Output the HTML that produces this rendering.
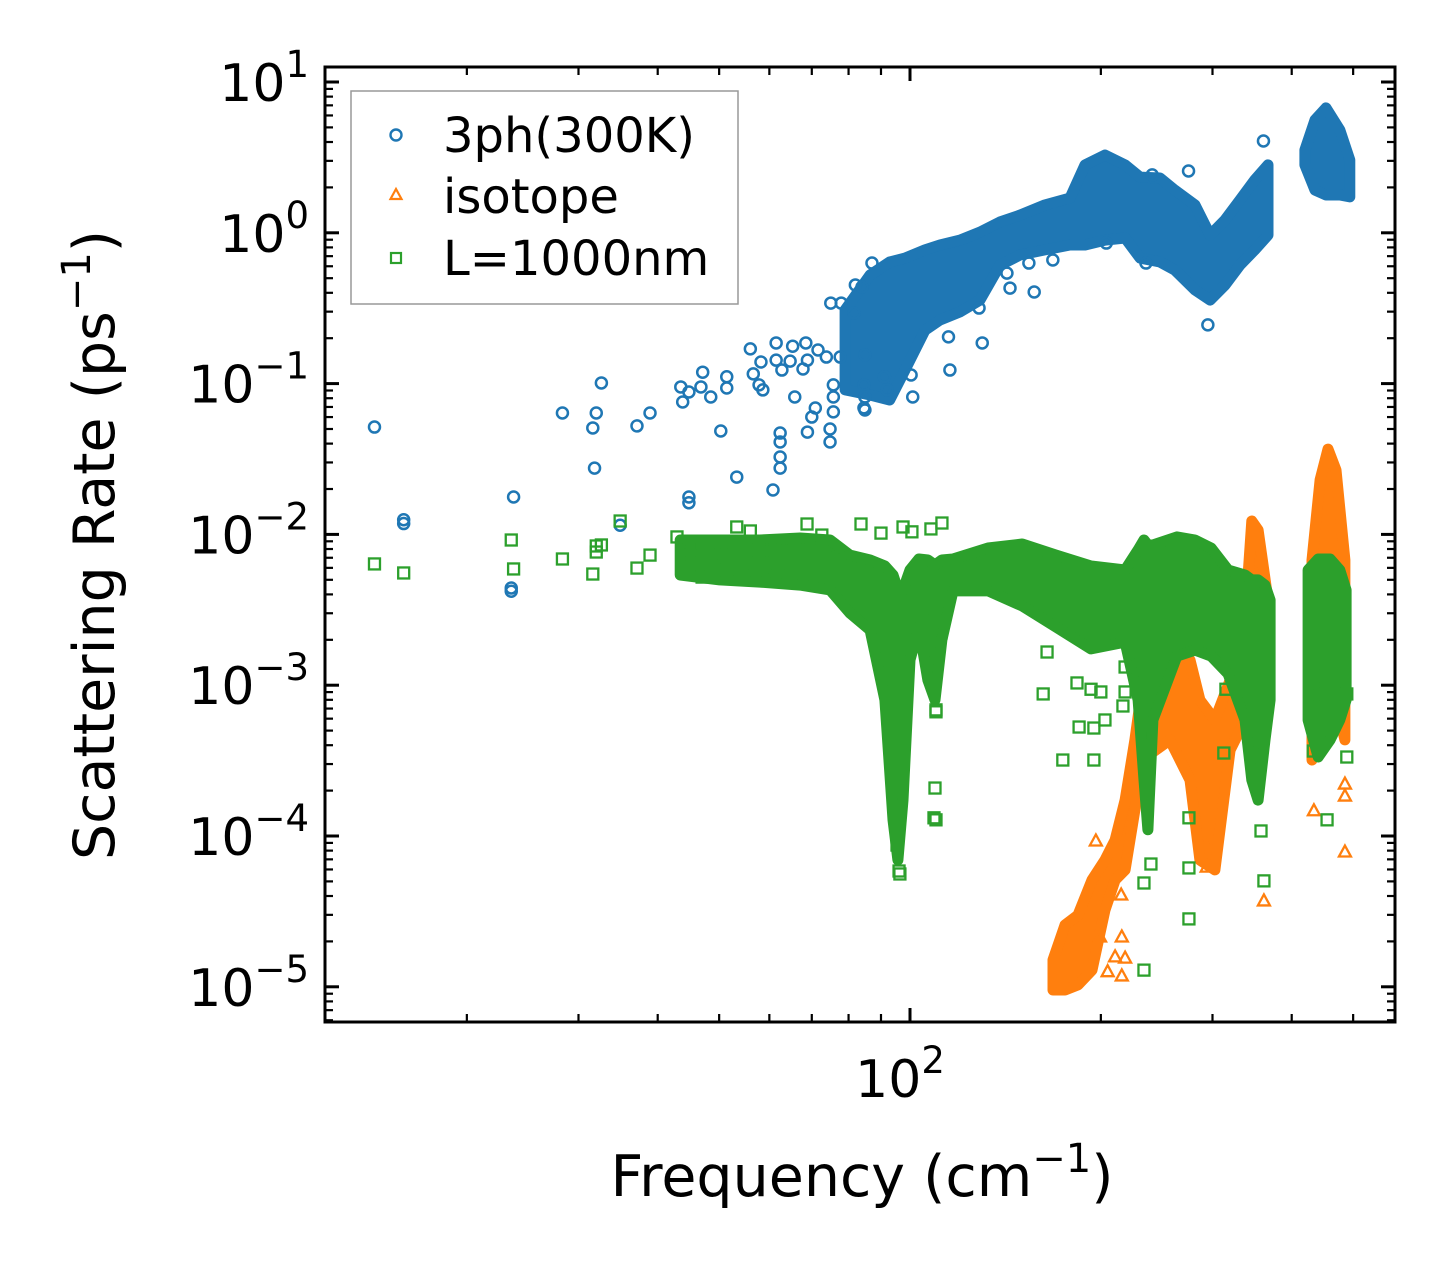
<!DOCTYPE html>
<html><head><meta charset="utf-8">
<style>
html,body{margin:0;padding:0;background:#fff;}
svg{display:block;font-family:"DejaVu Sans","Liberation Sans",sans-serif;}
</style></head>
<body>
<svg id="chart" width="1455" height="1272" viewBox="0 0 1455 1272" xmlns="http://www.w3.org/2000/svg">
<defs><clipPath id="plotclip"><rect x="325" y="67" width="1070" height="955"/></clipPath></defs>
<rect x="0" y="0" width="1455" height="1272" fill="#fff"/>
<g id="marks" clip-path="url(#plotclip)"></g>
<g id="axes"></g>
<rect x="325" y="67" width="1070" height="955" fill="none" stroke="#000" stroke-width="3"/>
<g>
<rect x="351" y="91" width="387" height="213" fill="#fff" fill-opacity="0.8" stroke="#999" stroke-width="1.5"/>
<g>
<circle cx="396" cy="135" r="5.5" fill="none" stroke="#1f77b4" stroke-width="2.4"/>
<text x="443" y="152" font-size="48">3ph(300K)</text></g>
<g>
<polygon points="396,189 401.5,199 390.5,199" fill="none" stroke="#ff7f0e" stroke-width="2.2"/>
<text x="443" y="213" font-size="48">isotope</text></g>
<g>
<rect x="391" y="253" width="10" height="10" fill="none" stroke="#2ca02c" stroke-width="2.2"/>
<text x="443" y="275" font-size="48">L=1000nm</text></g>
</g>
<text x="862" y="1196" font-size="57" text-anchor="middle">Frequency (cm<tspan dy="-24" font-size="40">−1</tspan><tspan dy="24">)</tspan></text>
<text transform="translate(114,545) rotate(-90)" font-size="57" text-anchor="middle">Scattering Rate (ps<tspan dy="-24" font-size="40">−1</tspan><tspan dy="24">)</tspan></text>
</svg>
<script>
const blueFreq=[14.3,15.9,15.9,23.7,23.5,23.5,28.3,32.0,31.6,32.6,31.8,37.1,38.9,34.9,43.5,43.8,44.8,46.8,47.1,48.5,51.4,51.4,50.3,53.3,44.8,44.8,56.0,56.6,57.8,58.6,58.2,61.5,61.5,62.8,64.7,65.3,65.8,62.4,62.4,62.4,62.4,60.8,67.8,68.9,70.0,70.9,68.5,68.9,71.6,73.8,75.7,75.7,75.7,74.8,74.8,75.0,77.6,77.9,81.6,82.0,84.0,87.1,84.9,84.6,84.9,84.9,92.0,91.1,100.4,101,115,115.6,84.6,130,128.5,143.8,142.2,157,154,168,204,235.6,295,361,275,241];
const blueRate=[0.0515,0.0125,0.0118,0.0177,0.00441,0.0042,0.0638,0.0638,0.0508,0.101,0.0275,0.0524,0.0638,0.0115,0.095,0.0755,0.088,0.095,0.119,0.0815,0.111,0.0935,0.0485,0.024,0.0177,0.0162,0.170,0.116,0.098,0.0908,0.139,0.186,0.143,0.123,0.141,0.177,0.0815,0.047,0.041,0.0326,0.0275,0.0197,0.125,0.0477,0.060,0.0689,0.186,0.143,0.167,0.150,0.098,0.0815,0.0649,0.050,0.041,0.342,0.150,0.342,0.294,0.451,0.437,0.63,0.155,0.098,0.0815,0.0668,0.0908,0.111,0.114,0.0815,0.204,0.123,0.069,0.186,0.317,0.43,0.54,0.405,0.63,0.66,0.855,0.63,0.245,4.06,2.57,2.42];
const blueBandFreq=[79.0,86.5,92.9,98.2,105.6,111.5,119.9,128.9,138.6,149.1,163.3,178.8,188.8,203,218.4,230.6,247.9,261.6,281.5,297.4,314,331.4,349.7,367,null,419.7,435.3,453,476.4,494];
const blueBandHigh=[0.308,0.525,0.64,0.68,0.77,0.83,0.895,1.01,1.18,1.31,1.53,1.70,2.82,3.28,2.82,2.34,2.31,1.92,1.53,0.966,1.22,1.65,2.24,2.82,null,3.54,5.60,6.73,4.81,3.04];
const blueBandLow=[0.0908,0.084,0.0778,0.123,0.226,0.264,0.299,0.358,0.61,0.712,0.77,0.83,0.83,0.895,0.924,0.68,0.64,0.566,0.418,0.358,0.451,0.61,0.77,0.966,null,2.82,1.92,1.78,1.78,1.73];

const greenFreq=[14.3,15.9,23.5,23.7,28.3,31.6,32.0,32.0,32.6,34.9,37.1,38.9,42.9,43.8,44.8,44.8,47.0,47.1,48.5,50.3,51.4,51.4,53.3,56.0,56.9,57.8,61.2,61.2,62.6,61.9,65.2,68.8,69.2,72.6,68.1,77.0,83.7,90.0,97.5,100.7,107.9,112.3,109.5,111.9,109.9,109.5,109.1,96.1,95.4,162.2,183.4,193,200,218.4,216.7,184.8,195,203,174.2,195,239.9,233.9,233.9,275.4,275.4,275.4,312.6,315,357.8,361.6,432.6,454.8,488.6,432.6,432.6,488.6,109.9,109.9,96.4,164.5,218.4];
const greenRate=[0.00637,0.00555,0.00918,0.0059,0.00687,0.00546,0.00838,0.00764,0.00851,0.01227,0.00598,0.00729,0.00962,0.00608,0.00891,0.00789,0.00521,0.00877,0.00637,0.00729,0.00891,0.00581,0.0112,0.01054,0.0053,0.00789,0.00789,0.00499,0.00904,0.00646,0.00598,0.01172,0.00863,0.0099,0.00476,0.00698,0.01172,0.0102,0.0112,0.0104,0.01087,0.0119,0.00267,0.00222,0.000686,0.000208,0.000132,0.0000586,0.0000871,0.000875,0.001035,0.00094,0.000902,0.000902,0.000728,0.000528,0.00052,0.000588,0.000319,0.000319,0.0000652,0.0000488,0.0000129,0.000132,0.0000614,0.0000282,0.000355,0.00094,0.000108,0.0000504,0.000366,0.000128,0.000334,0.00115,0.000875,0.000875,0.000666,0.000128,0.000056,0.00166,0.00132];
const greenBandFreq=[43.4,50.1,58.0,67.1,74.8,80.4,86.5,91.3,94.0,95.7,97.5,100,103.3,106.7,109.5,112.3,116.9,132.8,150.3,170,193,218.4,229,233.9,237.3,241.6,263.6,281.5,298.5,317.5,337.6,346,354,363,369.8,null,424.6,440.4,459.8,476.4,487.3];
const greenBandHigh=[0.00918,0.00918,0.00918,0.00946,0.00918,0.00729,0.00676,0.00617,0.00538,0.00428,0.00428,0.00581,0.00687,0.00676,0.00627,0.00676,0.00687,0.00813,0.00863,0.00729,0.00617,0.00581,0.00789,0.00918,0.00851,0.00851,0.00962,0.00918,0.00813,0.00581,0.00538,0.00499,0.00499,0.00461,0.00367,null,0.00581,0.00687,0.00687,0.00581,0.00428];
const greenBandLow=[0.00538,0.00499,0.00483,0.00461,0.00428,0.00301,0.00232,0.000798,0.000128,0.0000693,0.000173,0.00147,0.00243,0.00108,0.000798,0.002,0.00422,0.00422,0.00335,0.00243,0.00174,0.00193,0.000798,0.000235,0.00011,0.000588,0.00156,0.00171,0.00156,0.00119,0.000588,0.000235,0.000173,0.000434,0.000798,null,0.000588,0.000334,0.000434,0.000588,0.000798];

const orangeFreq=[485.3,485.3,485.3,433.6,361.6,293.8,293.8,215.8,218.4,215.8,199.4,210.6,205,215.3,196.4];
const orangeRate=[0.0000783,0.000221,0.000184,0.000147,0.0000371,0.0000622,0.0000845,0.0000214,0.0000155,0.0000118,0.0000214,0.0000158,0.0000126,0.0000406,0.0000927];
const orangeBandFreq=[168.1,175.6,184.1,193.7,203,210.6,218.4,226.3,232.1,257,276.5,286.6,302.6,319.8,337.6,346,354,367,null,430.6,443.4,456.4,469.8,485.3];
const orangeBandHigh=[0.00001507,0.0000257,0.0000299,0.0000511,0.0000693,0.000094,0.000173,0.000434,0.000929,0.00171,0.00147,0.000798,0.000588,0.00108,0.0027,0.01227,0.0107,0.00367,null,0.00676,0.023,0.0368,0.0267,0.00676];
const orangeBandLow=[0.00000953,0.00000953,0.0000103,0.0000129,0.0000323,0.0000511,0.0000596,0.000149,0.000319,0.000434,0.000235,0.0000693,0.0000596,0.000372,0.000588,0.000798,0.000929,0.000798,null,0.000319,0.000798,0.00108,0.000798,0.000434];

const yMajorExp=[1,0,-1,-2,-3,-4,-5];
const xMajorVals=[100];

const NS='http://www.w3.org/2000/svg';
function X(f){return 910+(Math.log10(f)-2)*634;}
function Y(r){return 82+(1-Math.log10(r))*150.8;}
const marks=document.getElementById('marks');
const axes=document.getElementById('axes');
function mk(tag,attrs,parent){const e=document.createElementNS(NS,tag);for(const k in attrs)e.setAttribute(k,attrs[k]);parent.appendChild(e);return e;}

function drawBand(fr,hi,lo,color,name){
  let segs=[],cur=[];
  for(let i=0;i<fr.length;i++){if(fr[i]===null){if(cur.length)segs.push(cur);cur=[];}else cur.push(i);}
  if(cur.length)segs.push(cur);
  segs.forEach(seg=>{
    const pts=[];
    seg.forEach(i=>pts.push(X(fr[i]).toFixed(1)+','+Y(hi[i]).toFixed(1)));
    seg.slice().reverse().forEach(i=>pts.push(X(fr[i]).toFixed(1)+','+Y(lo[i]).toFixed(1)));
    const p=mk('polygon',{points:pts.join(' '),fill:color,stroke:color,'stroke-width':11,'stroke-linejoin':'round'},marks);
    
    
  });
}
function drawCircles(fr,rt,color){
  for(let i=0;i<fr.length;i++){
    const c=mk('circle',{cx:X(fr[i]),cy:Y(rt[i]),r:5.5,fill:'none',stroke:color,'stroke-width':2.5},marks);
    
    
  }
}
function drawSquares(fr,rt,color){
  for(let i=0;i<fr.length;i++){
    const s=mk('rect',{x:X(fr[i])-5.5,y:Y(rt[i])-5.5,width:11,height:11,fill:'none',stroke:color,'stroke-width':2.3},marks);
    
    
  }
}
function drawTriangles(fr,rt,color){
  for(let i=0;i<fr.length;i++){
    const x=X(fr[i]),y=Y(rt[i]);
    const t=mk('polygon',{points:`${x},${y-6.5} ${x+6},${y+4.5} ${x-6},${y+4.5}`,fill:'none',stroke:color,'stroke-width':2.3},marks);
    
    
  }
}
drawBand(blueBandFreq,blueBandHigh,blueBandLow,'#1f77b4','3ph-cluster');
drawCircles(blueFreq,blueRate,'#1f77b4');
drawBand(orangeBandFreq,orangeBandHigh,orangeBandLow,'#ff7f0e','isotope-cluster');
drawTriangles(orangeFreq,orangeRate,'#ff7f0e');
drawBand(greenBandFreq,greenBandHigh,greenBandLow,'#2ca02c','boundary-cluster');
drawSquares(greenFreq,greenRate,'#2ca02c');

// y ticks
const yMin=-5.23,yMax=1.1;
for(let e=-6;e<=1;e++){
  for(let m=1;m<=9;m++){
    const v=m*Math.pow(10,e);const lv=Math.log10(v);
    if(lv<yMin||lv>yMax)continue;
    const y=Y(v);const len=m===1?14:8;
    const t1=mk('line',{x1:325,x2:325+len,y1:y,y2:y,stroke:'#000','stroke-width':m===1?3:2.2},axes);
    
    
    const t2=mk('line',{x1:1395,x2:1395-len,y1:y,y2:y,stroke:'#000','stroke-width':m===1?3:2.2},axes);
    
    
  }
}
yMajorExp.forEach(e=>{
  const tx=mk('text',{x:309,y:Y(Math.pow(10,e))+19,'font-size':52,'text-anchor':'end'},axes);
  tx.textContent='10';
  const sp=mk('tspan',{dy:-24,'font-size':37},tx);
  sp.textContent=e<0?'−'+(-e):String(e);
  
  
});
// x ticks
const xMinor=[20,30,40,50,60,70,80,90,100,200,300,400,500];
xMinor.forEach(v=>{
  const x=X(v);const maj=v===100;const len=maj?14:8;
  const b=mk('line',{x1:x,x2:x,y1:1022,y2:1022-len,stroke:'#000','stroke-width':maj?3:2.2},axes);
  
  
  const t=mk('line',{x1:x,x2:x,y1:67,y2:67+len,stroke:'#000','stroke-width':maj?3:2.2},axes);
  
  
});
xMajorVals.forEach(v=>{
  const tx=mk('text',{x:X(v)-10,y:1097,'font-size':52,'text-anchor':'middle'},axes);
  tx.textContent='10';
  const sp=mk('tspan',{dy:-24,'font-size':37},tx);
  sp.textContent=String(Math.round(Math.log10(v)));
  
  
});
</script>
</body></html>
